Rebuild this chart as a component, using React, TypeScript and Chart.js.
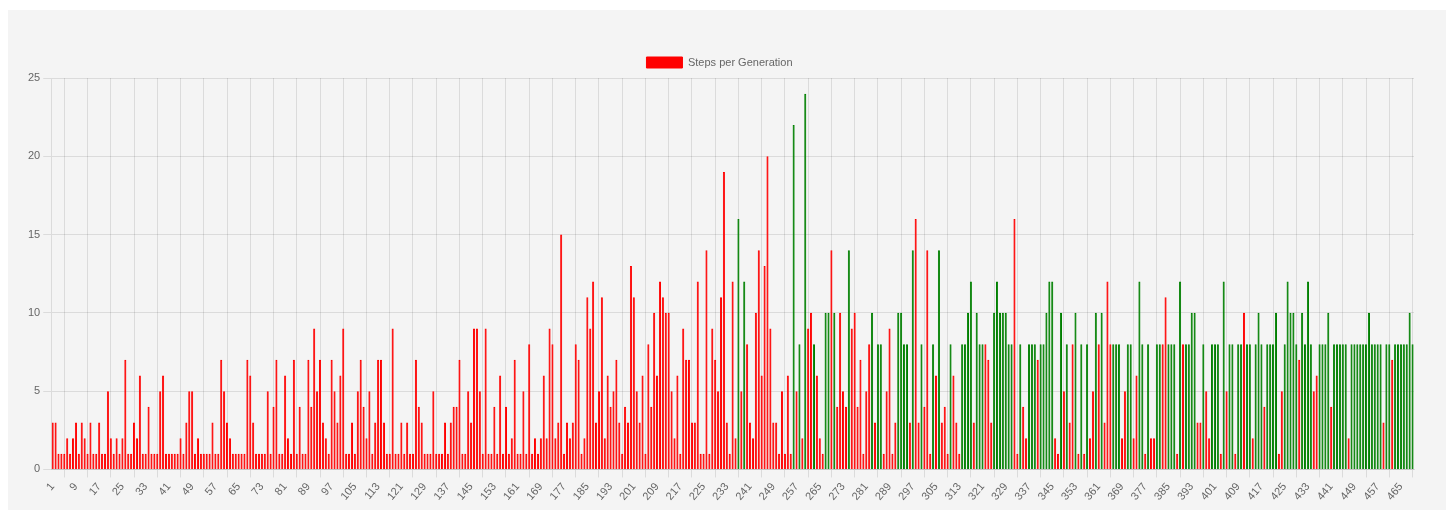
import React, { useEffect, useRef } from "react";
import { Chart, registerables } from "chart.js";

Chart.register(...registerables);

// Steps needed per generation (generation 1 .. 469)
const stepsPerGeneration: number[] = [
  // 1-38
  3, 3, 1, 1, 1, 2, 1, 2, 3, 1, 3, 2, 1, 3, 1, 1, 3, 1, 1, 5, 2, 1, 2, 1, 2, 7, 1, 1, 3, 2, 6, 1, 1, 4, 1, 1, 1, 5,
  // 39-78
  6, 1, 1, 1, 1, 1, 2, 1, 3, 5, 5, 1, 2, 1, 1, 1, 1, 3, 1, 1, 7, 5, 3, 2, 1, 1, 1, 1, 1, 7, 6, 3, 1, 1, 1, 1, 5, 1, 4, 7,
  // 79-118
  1, 1, 6, 2, 1, 7, 1, 4, 1, 1, 7, 4, 9, 5, 7, 3, 2, 1, 7, 5, 3, 6, 9, 1, 1, 3, 1, 5, 7, 4, 2, 5, 1, 3, 7, 7, 3, 1, 1, 9,
  // 119-157
  1, 1, 3, 1, 3, 1, 1, 7, 4, 3, 1, 1, 1, 5, 1, 1, 1, 3, 1, 3, 4, 4, 7, 1, 1, 5, 3, 9, 9, 5, 1, 9, 1, 1, 4, 1, 6, 1, 4,
  // 158-197
  1, 2, 7, 1, 1, 5, 1, 8, 1, 2, 1, 2, 6, 2, 9, 8, 2, 3, 15, 1, 3, 2, 3, 8, 7, 1, 2, 11, 9, 12, 3, 5, 11, 2, 6, 4, 5, 7, 3, 1,
  // 198-236
  4, 3, 13, 11, 5, 3, 6, 1, 8, 4, 10, 6, 12, 11, 10, 10, 5, 2, 6, 1, 9, 7, 7, 3, 3, 12, 1, 1, 14, 1, 9, 7, 5, 11, 19, 3, 1, 12, 2,
  // 237-276
  16, 5, 12, 8, 3, 2, 10, 14, 6, 13, 20, 9, 3, 3, 1, 5, 1, 6, 1, 22, 5, 8, 2, 24, 9, 10, 8, 6, 2, 1, 10, 10, 14, 10, 4, 10, 5, 4, 14, 9,
  // 277-315
  10, 4, 7, 1, 5, 8, 10, 3, 8, 8, 1, 5, 9, 1, 3, 10, 10, 8, 8, 3, 14, 16, 3, 8, 4, 14, 1, 8, 6, 14, 3, 4, 1, 8, 6, 3, 1, 8, 8,
  // 316-355
  10, 12, 3, 10, 8, 8, 8, 7, 3, 10, 12, 10, 10, 10, 8, 8, 16, 1, 8, 4, 2, 8, 8, 8, 7, 8, 8, 10, 12, 12, 2, 1, 10, 5, 8, 3, 8, 10, 1, 8,
  // 356-394
  1, 8, 2, 5, 10, 8, 10, 3, 12, 8, 8, 8, 8, 2, 5, 8, 8, 2, 6, 12, 8, 1, 8, 2, 2, 8, 8, 8, 11, 8, 8, 8, 1, 12, 8, 8, 8, 10, 10,
  // 395-434
  3, 3, 8, 5, 2, 8, 8, 8, 1, 12, 5, 8, 8, 1, 8, 8, 10, 8, 8, 2, 8, 10, 8, 4, 8, 8, 8, 10, 1, 5, 8, 12, 10, 10, 8, 7, 10, 8, 12, 8,
  // 435-469
  5, 6, 8, 8, 8, 10, 4, 8, 8, 8, 8, 8, 2, 8, 8, 8, 8, 8, 8, 10, 8, 8, 8, 8, 3, 8, 8, 7, 8, 8, 8, 8, 8, 10, 8,
];

// Generations whose bar is drawn green (all others are red)
const greenGenerations: number[] = [
  237, 239, 256, 258, 260, 263, 267, 268, 270, 275,
  283, 285, 286, 292, 293, 294, 295, 297, 300, 304, 306, 310, 314, 315,
  316, 317, 319, 320, 321, 325, 326, 327, 328, 329, 330, 331, 334, 337, 338, 339, 341, 342, 343, 344, 345, 348, 350, 353, 355,
  357, 360, 362, 366, 367, 368, 371, 372, 375, 376, 378, 381, 382, 385, 386, 387, 389, 391, 392, 393, 394,
  397, 400, 401, 402, 404, 406, 407, 409, 410, 412, 413, 415, 416, 417, 419, 420, 421, 422, 425, 426, 427, 428, 429, 431, 432, 433, 434,
  437, 438, 439, 440, 442, 443, 444, 445, 446, 448, 449, 450, 451, 452, 453, 454, 455, 456, 457, 458, 460, 461, 463, 464, 465, 466, 467, 468, 469,
];

const generationLabels: string[] = stepsPerGeneration.map((_, i) => String(i + 1));

const datasetLabel = "Steps per Generation";

const RED_FILL = "rgba(255, 0, 0, 0.75)";
const RED_BORDER = "rgb(255, 0, 0)";
const GREEN_FILL = "rgba(0, 128, 0, 0.72)";
const GREEN_BORDER = "rgb(0, 128, 0)";

export default function App() {
  const canvasRef = useRef<HTMLCanvasElement | null>(null);

  useEffect(() => {
    if (!canvasRef.current) return;
    const greenSet = new Set(greenGenerations);
    const fills = generationLabels.map((g) => (greenSet.has(Number(g)) ? GREEN_FILL : RED_FILL));
    const borders = generationLabels.map((g) => (greenSet.has(Number(g)) ? GREEN_BORDER : RED_BORDER));

    Chart.defaults.font.family = "'Liberation Sans', Arial, Helvetica, sans-serif";
    Chart.defaults.font.size = 11;
    Chart.defaults.color = "#666";

    const chart = new Chart(canvasRef.current, {
      type: "bar",
      data: {
        labels: generationLabels,
        datasets: [
          {
            label: datasetLabel,
            data: stepsPerGeneration,
            backgroundColor: fills,
            borderColor: borders,
            borderWidth: 1,
          },
        ],
      },
      options: {
        animation: false,
        responsive: true,
        maintainAspectRatio: false,
        layout: { padding: { left: 17, right: 32, top: 37, bottom: 4 } },
        plugins: {
          legend: {
            display: true,
            labels: {
              boxWidth: 36,
              boxHeight: 11,
              generateLabels: (c: any) => {
                const items = Chart.defaults.plugins.legend.labels.generateLabels(c);
                return items.map((it: any) => ({ ...it, fillStyle: RED_BORDER, strokeStyle: RED_BORDER }));
              },
            },
          },
          tooltip: { enabled: false },
        },
        scales: {
          x: {
            ticks: { autoSkip: true, maxTicksLimit: 60, maxRotation: 50 },
            grid: { color: "rgba(0,0,0,0.1)" },
          },
          y: {
            min: 0,
            max: 25,
            ticks: { stepSize: 5 },
            grid: { color: "rgba(0,0,0,0.1)" },
          },
        },
      },
    });
    return () => chart.destroy();
  }, []);

  return (
    <div style={{ paddingTop: 2 }}>
      <div style={{ background: "#f4f4f4", height: 500, position: "relative" }}>
        <canvas ref={canvasRef} />
      </div>
    </div>
  );
}
